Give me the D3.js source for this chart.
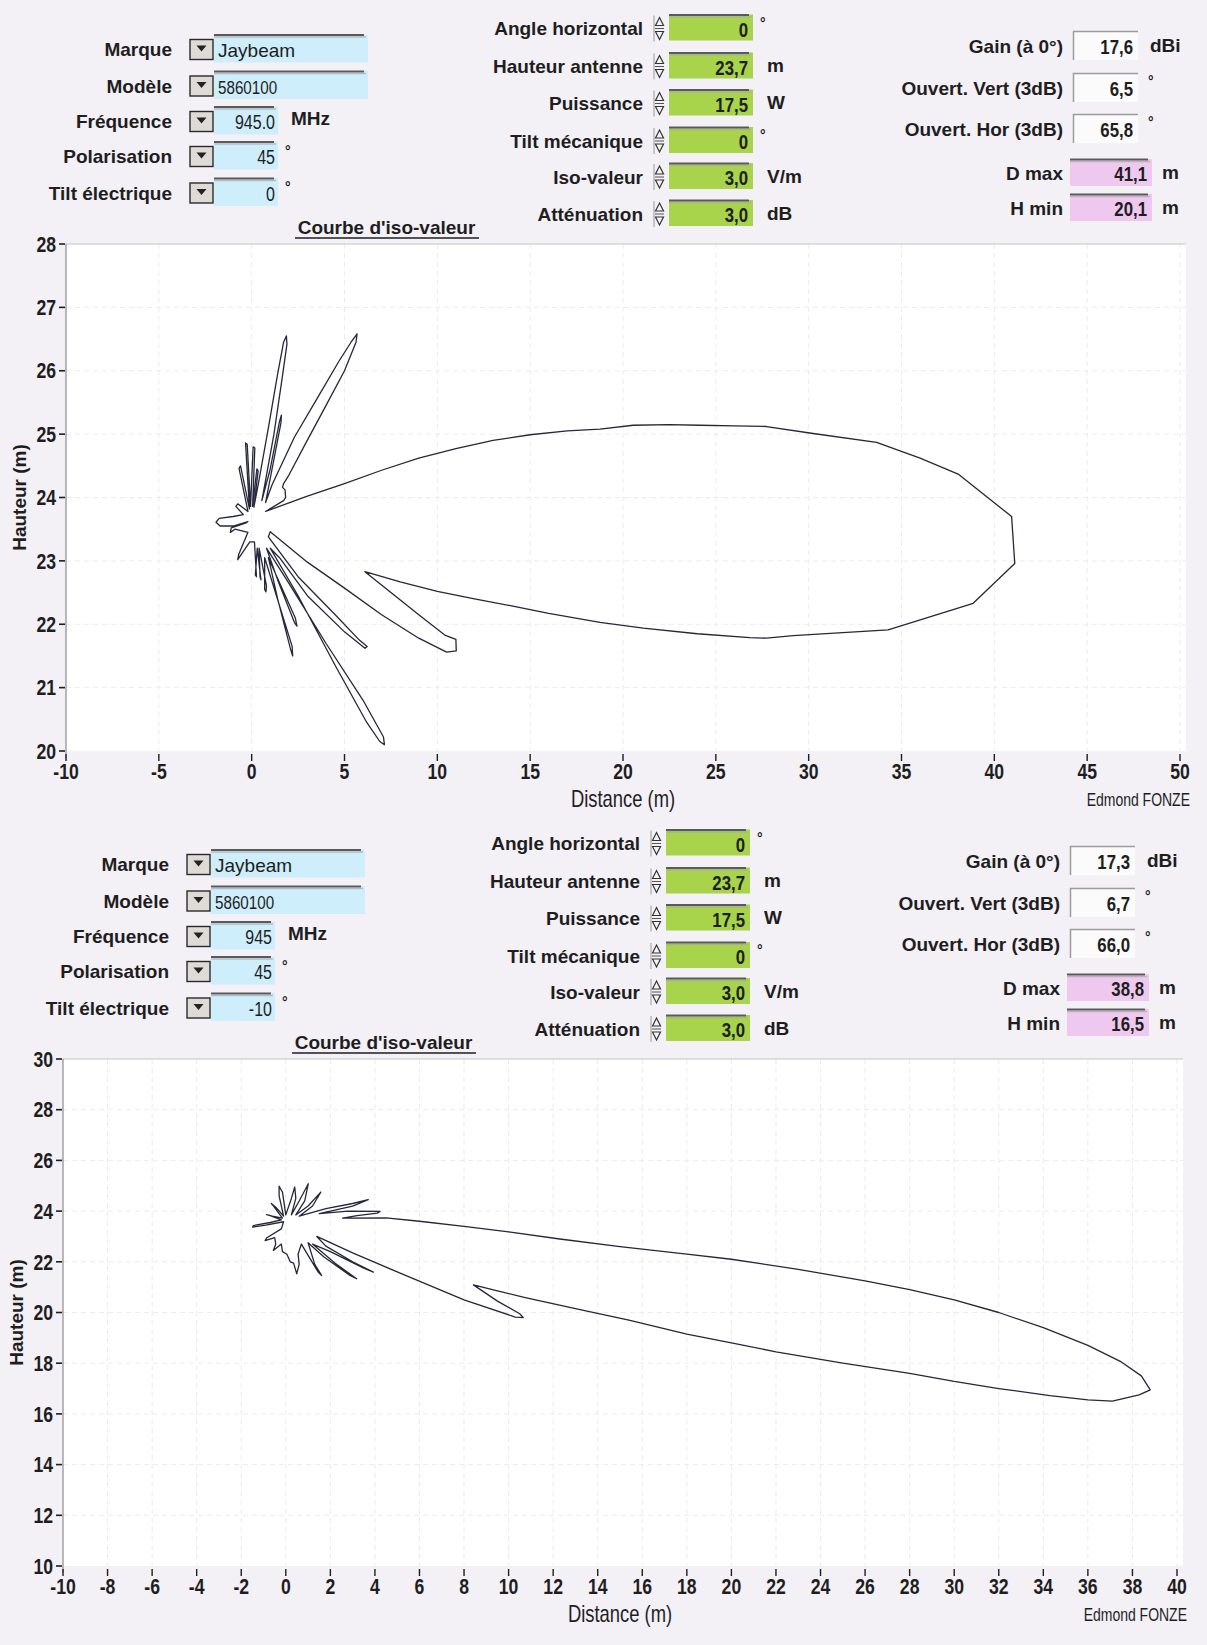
<!DOCTYPE html>
<html>
<head>
<meta charset="utf-8">
<script src="https://cdn.jsdelivr.net/npm/d3@7"></script>
<style>
  html, body { margin: 0; padding: 0; background: #f3f0f6; }
  svg { display: block; }
</style>
</head>
<body>
<svg id="page" width="1207" height="1645"></svg>
<script>
// ---------- Parameter panels ----------
const leftLabels  = ["Marque", "Modèle", "Fréquence", "Polarisation", "Tilt électrique"];
const leftValuesA = ["Jaybeam", "5860100", "945.0", "45", "0"];
const leftValuesB = ["Jaybeam", "5860100", "945", "45", "-10"];
const leftUnits   = ["", "", "MHz", "°", "°"];
const leftWide    = [true, true, false, false, false];

const midLabels   = ["Angle horizontal", "Hauteur antenne", "Puissance", "Tilt mécanique", "Iso-valeur", "Atténuation"];
const midValuesA  = ["0", "23,7", "17,5", "0", "3,0", "3,0"];
const midValuesB  = ["0", "23,7", "17,5", "0", "3,0", "3,0"];
const midUnits    = ["°", "m", "W", "°", "V/m", "dB"];

const rightLabels  = ["Gain (à 0°)", "Ouvert. Vert (3dB)", "Ouvert. Hor (3dB)", "D max", "H min"];
const rightValuesA = ["17,6", "6,5", "65,8", "41,1", "20,1"];
const rightValuesB = ["17,3", "6,7", "66,0", "38,8", "16,5"];
const rightUnits   = ["dBi", "°", "°", "m", "m"];

// ---------- Axes ----------
const xDomainA = [-10, 50], yDomainA = [20, 28];
const xTicksA  = [-10, -5, 0, 5, 10, 15, 20, 25, 30, 35, 40, 45, 50];
const yTicksA  = [20, 21, 22, 23, 24, 25, 26, 27, 28];
const xDomainB = [-10, 40], yDomainB = [10, 30];
const xTicksB  = [-10, -8, -6, -4, -2, 0, 2, 4, 6, 8, 10, 12, 14, 16, 18, 20, 22, 24, 26, 28, 30, 32, 34, 36, 38, 40];
const yTicksB  = [10, 12, 14, 16, 18, 20, 22, 24, 26, 28, 30];

// ---------- Iso-value contours [distance m, height m] ----------
// electrical tilt 0°
const isoCurveA = [
  [-0.2, 23.62], [-1.0, 23.55], [-1.7, 23.55], [-1.92, 23.61], [-1.75, 23.67], [-1.0, 23.70], [-0.45, 23.73],
  [-0.85, 23.86], [-0.75, 23.9], [-0.2, 23.78],
  [-0.68, 24.46], [-0.6, 24.5], [-0.12, 23.82],
  [-0.33, 24.86], [-0.24, 24.84], [-0.06, 23.86],
  [0.08, 24.80], [0.17, 24.78], [0.05, 23.86],
  [0.28, 24.45], [0.35, 24.42], [0.12, 23.85],
  [0.35, 24.2], [0.9, 25.1], [1.4, 25.95], [1.72, 26.45], [1.87, 26.55], [1.9, 26.42], [1.65, 25.9], [1.2, 25.0], [0.55, 23.95],
  [1.0, 24.45], [1.5, 25.2], [1.6, 25.3], [1.58, 25.18], [0.75, 23.92],
  [1.1, 24.2], [2.3, 24.95], [3.6, 25.6], [4.7, 26.15], [5.35, 26.45], [5.68, 26.58], [5.62, 26.45], [5.0, 26.0],
  [4.0, 25.45], [2.9, 24.85], [2.0, 24.35], [1.72, 24.22], [1.66, 24.16], [1.8, 24.12], [1.83, 24.0], [1.72, 23.95],
  [0.75, 23.78],
  [3.0, 24.02], [5.0, 24.22], [7.0, 24.43], [9.0, 24.62], [11.0, 24.77], [13.0, 24.9], [15.0, 24.99], [17.0, 25.05],
  [18.76, 25.08], [20.55, 25.14], [22.5, 25.15], [24.14, 25.14], [26.0, 25.13], [27.73, 25.12], [30.24, 25.01],
  [33.66, 24.87], [36.0, 24.62], [38.05, 24.37], [40.93, 23.70], [41.1, 22.96], [38.86, 22.33], [34.28, 21.91],
  [29.17, 21.82], [27.73, 21.78], [26.83, 21.79], [24.0, 21.85], [21.09, 21.94], [18.76, 22.03], [16.0, 22.17],
  [14.0, 22.29], [12.0, 22.4], [10.0, 22.52], [8.0, 22.67], [6.1, 22.83],
  [7.5, 22.5], [9.0, 22.15], [10.4, 21.83], [11.0, 21.76], [11.02, 21.58], [10.5, 21.56], [9.0, 21.78], [7.0, 22.15],
  [5.0, 22.57], [3.0, 22.98], [1.0, 23.46],
  [0.9, 23.38], [2.5, 22.75], [4.5, 22.15], [5.8, 21.75], [6.22, 21.65], [6.1, 21.62], [5.0, 21.88], [3.0, 22.45], [1.5, 23.05],
  [1.0, 23.2], [2.5, 22.45], [4.5, 21.35], [6.2, 20.45], [6.9, 20.15], [7.15, 20.1], [7.1, 20.22], [6.0, 20.8],
  [4.0, 21.7], [2.0, 22.65], [0.8, 23.2],
  [1.4, 22.7], [2.3, 22.03], [2.44, 21.97], [2.35, 22.1], [0.9, 23.05],
  [1.4, 22.4], [2.1, 21.6], [2.21, 21.5], [2.18, 21.65], [0.7, 23.05],
  [0.7, 22.55], [0.77, 22.51], [0.8, 22.6], [0.4, 23.2],
  [0.45, 22.75], [0.5, 22.7], [0.3, 23.2],
  [0.2, 22.78], [0.26, 22.75], [0.15, 23.3],
  [-0.1, 23.3], [-0.75, 23.02], [-0.7, 23.1], [-0.2, 23.45],
  [-0.9, 23.5], [-1.15, 23.45], [-1.1, 23.52], [-0.3, 23.6]
];

// electrical tilt -10°
const isoCurveB = [
  [-0.1, 23.58], [-0.9, 23.45], [-1.49, 23.37], [-1.45, 23.43], [-0.7, 23.55], [-0.2, 23.65],
  [-0.7, 23.82], [-0.86, 23.86], [-0.6, 23.8], [-0.15, 23.72],
  [-0.55, 24.2], [-0.65, 24.3], [-0.45, 24.15], [-0.1, 23.8],
  [-0.3, 24.6], [-0.3, 24.98], [-0.15, 24.75], [0.0, 23.85],
  [0.25, 24.5], [0.4, 24.95], [0.45, 24.5], [0.25, 23.85],
  [0.6, 24.4], [1.01, 25.08], [0.85, 24.4], [0.45, 23.85],
  [1.0, 24.2], [1.57, 24.75], [1.2, 24.2], [0.6, 23.8],
  [1.8, 24.1], [3.0, 24.3], [3.70, 24.45], [3.0, 24.2], [1.5, 23.9],
  [2.8, 24.0], [4.23, 23.99], [4.1, 23.92], [3.2, 23.82], [2.55, 23.72],
  [4.5, 23.73], [6.0, 23.6], [8.0, 23.4], [10.0, 23.18], [12.3, 22.9], [15.0, 22.6], [18.0, 22.3], [20.0, 22.1],
  [23.0, 21.7], [26.0, 21.25], [28.0, 20.9], [30.0, 20.5], [32.0, 20.0], [34.0, 19.4], [36.0, 18.7], [37.5, 18.05],
  [38.4, 17.5], [38.8, 16.95],
  [38.3, 16.75], [37.1, 16.5], [36.0, 16.55], [34.3, 16.72], [32.0, 17.0], [30.0, 17.28], [28.0, 17.6], [25.0, 18.0],
  [22.0, 18.45], [20.0, 18.8], [18.0, 19.15], [15.4, 19.7], [13.0, 20.15], [10.7, 20.6], [9.5, 20.85], [8.42, 21.09],
  [9.5, 20.45], [10.5, 19.95], [10.66, 19.8], [10.3, 19.82], [8.0, 20.5], [5.0, 21.6], [3.0, 22.35], [1.39, 23.0],
  [1.8, 22.62], [3.0, 22.0], [3.93, 21.59], [3.5, 21.75], [2.0, 22.4], [1.2, 22.7],
  [2.2, 21.95], [3.18, 21.33], [2.9, 21.45], [1.7, 22.2], [1.0, 22.75],
  [1.3, 21.9], [1.61, 21.46], [1.45, 21.6], [0.9, 22.4], [0.7, 22.7],
  [0.55, 22.3], [0.6, 21.9], [0.49, 21.53], [0.35, 21.95], [0.2, 22.0], [0.05, 22.3], [-0.15, 22.4], [-0.2, 22.7],
  [-0.56, 22.45], [-0.45, 22.7],
  [-0.5, 22.95], [-0.93, 22.84], [-0.85, 22.95], [-0.2, 23.3]
];

// ---------- Drawing ----------
const svg = d3.select("#page");
const SANS = "'Liberation Sans', Arial, Helvetica, sans-serif";
const INK = "#1e1e1e";
const NARROW_X = 0.8;   // horizontal squeeze for condensed lettering

const box = { left: 66, right: 1180, top: 244, bottom: 751 };

function label(g, x, y, text, opts = {}) {
  const sx = opts.narrow ? NARROW_X : 1;
  const t = g.append("text")
    .attr("dominant-baseline", "central")
    .attr("text-anchor", opts.anchor || "end")
    .attr("font-family", SANS)
    .attr("font-size", opts.size || 19)
    .attr("font-weight", opts.weight || "bold")
    .attr("fill", opts.fill || INK)
    .text(text);
  if (sx !== 1) t.attr("transform", `translate(${x},${y}) scale(${sx},1)`);
  else t.attr("x", x).attr("y", y);
  return t;
}

function sunkenField(g, x, y, w, h, fill) {
  g.append("rect").attr("x", x).attr("y", y).attr("width", w).attr("height", h).attr("fill", fill);
  g.append("line").attr("x1", x).attr("x2", x + w - 4).attr("y1", y + 0.5).attr("y2", y + 0.5)
    .attr("stroke", "#5a5a5a").attr("stroke-width", 2);
  g.append("line").attr("x1", x).attr("x2", x + w - 2).attr("y1", y + 2.5).attr("y2", y + 2.5)
    .attr("stroke", "#a8a8a8").attr("stroke-width", 1.5).attr("opacity", 0.7);
}

function dropButton(g, x, cy) {
  g.append("rect").attr("x", x).attr("y", cy - 10).attr("width", 23).attr("height", 20)
    .attr("fill", "#dedbd6").attr("stroke", "#2a2a2a").attr("stroke-width", 1.4);
  g.append("path").attr("d", `M${x + 6.5},${cy - 4} L${x + 16.5},${cy - 4} L${x + 11.5},${cy + 2} Z`).attr("fill", "#222");
}

function spinner(g, x, cy) {
  g.append("line").attr("x1", x).attr("x2", x).attr("y1", cy - 13).attr("y2", cy + 13)
    .attr("stroke", "#9a9a9a").attr("stroke-width", 1);
  g.append("path").attr("d", `M${x + 1.5},${cy - 3} L${x + 5.5},${cy - 11} L${x + 9.5},${cy - 3} Z`)
    .attr("fill", "#f4f4f4").attr("stroke", "#333").attr("stroke-width", 1.2);
  g.append("path").attr("d", `M${x + 1.5},${cy + 3} L${x + 5.5},${cy + 11} L${x + 9.5},${cy + 3} Z`)
    .attr("fill", "#f4f4f4").attr("stroke", "#333").attr("stroke-width", 1.2);
  g.append("line").attr("x1", x + 1).attr("x2", x + 10).attr("y1", cy).attr("y2", cy)
    .attr("stroke", "#555").attr("stroke-width", 1);
}

function drawPanel(g, cfg) {
  // left column: selections
  const leftY = [49.5, 86, 121.5, 156.5, 193];
  leftLabels.forEach((t, i) => {
    const cy = leftY[i];
    label(g, 172, cy, t);
    dropButton(g, 190, cy);
    const w = leftWide[i] ? 154 : 64;
    sunkenField(g, 214, cy - 15, w, 28, "#cfeefb");
    if (leftWide[i]) {
      label(g, 218, cy + 1, cfg.leftValues[i], { weight: "normal", size: 19, anchor: "start", narrow: i === 1 });
    } else {
      label(g, 275, cy + 1, cfg.leftValues[i], { weight: "normal", size: 20, narrow: true });
    }
    if (leftUnits[i] === "°") label(g, 285, cy - 6, "°", { size: 14, anchor: "start" });
    else if (leftUnits[i]) label(g, 291, cy - 3, leftUnits[i], { anchor: "start" });
  });
  label(g, 386.5, 227, "Courbe d'iso-valeur", { anchor: "middle", size: 19 });
  g.append("line").attr("x1", 295).attr("x2", 479).attr("y1", 238).attr("y2", 238)
    .attr("stroke", INK).attr("stroke-width", 1.5);

  // middle column: spin inputs
  const midY = [28.5, 66.5, 103.5, 141, 177, 214];
  midLabels.forEach((t, i) => {
    const cy = midY[i];
    label(g, 643, cy, t);
    spinner(g, 654, cy);
    sunkenField(g, 669, cy - 14, 84, 26, "#a8d44c");
    label(g, 748, cy + 1, cfg.midValues[i], { size: 21, narrow: true });
    if (midUnits[i] === "°") label(g, 760, cy - 6, "°", { size: 14, anchor: "start" });
    else label(g, 767, cy - 1, midUnits[i], { anchor: "start" });
  });

  // right column: results
  const rightY = [46, 88, 129, 173, 208];
  rightLabels.forEach((t, i) => {
    const cy = rightY[i];
    label(g, 1063, cy, t, { size: 19 });
    if (i < 3) {
      g.append("rect").attr("x", 1073).attr("y", cy - 15).attr("width", 65).attr("height", 29).attr("fill", "#fbfbfc");
      g.append("path").attr("d", `M${1073.5},${cy + 14} L${1073.5},${cy - 14.5} L${1138},${cy - 14.5}`)
        .attr("fill", "none").attr("stroke", "#9c9c9c").attr("stroke-width", 1.5);
      label(g, 1133, cy + 1, cfg.rightValues[i], { size: 21, narrow: true });
      if (rightUnits[i] === "°") label(g, 1148, cy - 7, "°", { size: 14, anchor: "start" });
      else label(g, 1150, cy - 1, rightUnits[i], { anchor: "start" });
    } else {
      sunkenField(g, 1070, cy - 14, 82, 27, "#efc8ef");
      label(g, 1147, cy + 1, cfg.rightValues[i], { size: 21, narrow: true });
      label(g, 1162, cy - 1, rightUnits[i], { anchor: "start" });
    }
  });

  // chart
  const x = d3.scaleLinear().domain(cfg.xDomain).range([box.left, box.right]);
  const y = d3.scaleLinear().domain(cfg.yDomain).range([box.bottom, box.top]);

  g.append("rect").attr("x", box.left).attr("y", box.top)
    .attr("width", box.right + 6 - box.left).attr("height", box.bottom - box.top).attr("fill", "#ffffff");

  // grid
  g.append("g").selectAll("line").data(cfg.xTicks.slice(1)).join("line")
    .attr("x1", d => x(d)).attr("x2", d => x(d)).attr("y1", box.top).attr("y2", box.bottom)
    .attr("stroke", "#ececf0").attr("stroke-width", 1).attr("stroke-dasharray", "5,4");
  g.append("g").selectAll("line").data(cfg.yTicks.slice(1, -1)).join("line")
    .attr("x1", box.left).attr("x2", box.right + 6).attr("y1", d => y(d)).attr("y2", d => y(d))
    .attr("stroke", "#ececf0").attr("stroke-width", 1).attr("stroke-dasharray", "5,4");

  // frame
  g.append("line").attr("x1", box.left).attr("x2", box.right + 6).attr("y1", box.top).attr("y2", box.top)
    .attr("stroke", "#c4c4c8").attr("stroke-width", 1.2);
  g.append("line").attr("x1", box.left).attr("x2", box.left).attr("y1", box.top).attr("y2", box.bottom + 7)
    .attr("stroke", "#8c8c90").attr("stroke-width", 1.2);

  // y axis ticks and labels
  const yAxis = g.append("g");
  cfg.yTicks.forEach(t => {
    yAxis.append("line").attr("x1", 59).attr("x2", 65).attr("y1", y(t)).attr("y2", y(t))
      .attr("stroke", INK).attr("stroke-width", 1.6);
    label(yAxis, 56, y(t), String(t), { size: 22, narrow: true });
  });
  // x axis ticks and labels
  const xAxis = g.append("g");
  cfg.xTicks.forEach(t => {
    xAxis.append("line").attr("x1", x(t)).attr("x2", x(t)).attr("y1", box.bottom + 3).attr("y2", box.bottom + 10)
      .attr("stroke", INK).attr("stroke-width", 1.4);
    label(xAxis, x(t), box.bottom + 20, String(t), { anchor: "middle", size: 22, narrow: true });
  });

  label(g, (box.left + box.right) / 2, box.bottom + 48, "Distance (m)",
    { anchor: "middle", size: 23, weight: "normal", narrow: true });
  label(g, 1190, box.bottom + 49, "Edmond FONZE",
    { size: 17.5, weight: "normal", narrow: true });
  g.append("text")
    .attr("transform", `translate(19,${(box.top + box.bottom) / 2}) rotate(-90)`)
    .attr("text-anchor", "middle").attr("dominant-baseline", "central")
    .attr("font-family", SANS).attr("font-weight", "bold").attr("font-size", 19).attr("fill", INK)
    .text("Hauteur (m)");

  // iso-value contour
  const line = d3.line().x(d => x(d[0])).y(d => y(d[1])).curve(d3.curveLinearClosed);
  g.append("path").datum(cfg.curve).attr("d", line)
    .attr("fill", "none").attr("stroke", "#26263c").attr("stroke-width", 1.3).attr("stroke-linejoin", "round");
}

drawPanel(svg.append("g"), {
  leftValues: leftValuesA, midValues: midValuesA, rightValues: rightValuesA,
  xDomain: xDomainA, yDomain: yDomainA, xTicks: xTicksA, yTicks: yTicksA, curve: isoCurveA
});
drawPanel(svg.append("g").attr("transform", "translate(-3,815)"), {
  leftValues: leftValuesB, midValues: midValuesB, rightValues: rightValuesB,
  xDomain: xDomainB, yDomain: yDomainB, xTicks: xTicksB, yTicks: yTicksB, curve: isoCurveB
});
</script>
</body>
</html>
